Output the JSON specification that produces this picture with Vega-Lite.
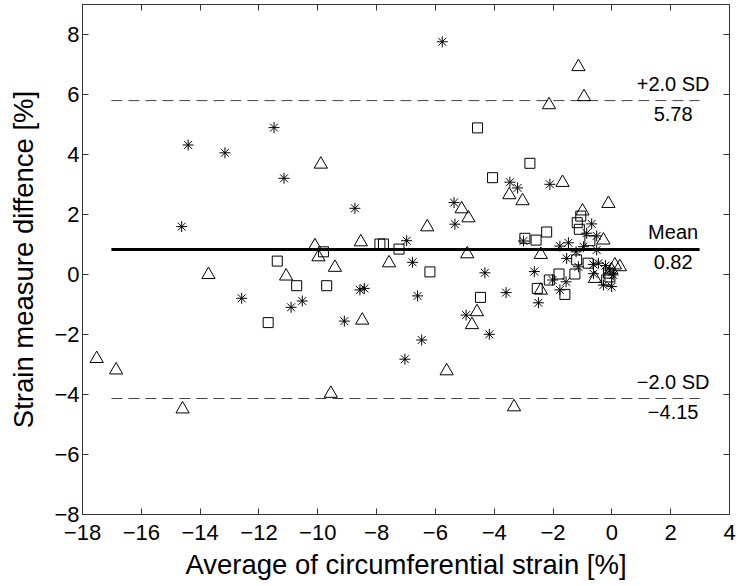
{
  "$schema": "https://vega.github.io/schema/vega-lite/v6.json",
  "width": 647,
  "height": 510,
  "autosize": {"type": "none"},
  "padding": {"left": 82, "top": 4, "right": 9, "bottom": 72},
  "background": "white",
  "config": {
    "font": "Liberation Sans",
    "view": {"stroke": "#333333", "strokeWidth": 1},
    "axis": {
      "grid": false,
      "domainColor": "#333333",
      "tickColor": "#333333",
      "tickSize": -6,
      "labelFontSize": 22,
      "labelColor": "black",
      "labelFlush": false,
      "labelOverlap": false,
      "titleFontSize": 27.5,
      "titleFontWeight": "normal",
      "titleColor": "black",
      "labelFont": "Liberation Sans",
      "titleFont": "Liberation Sans"
    }
  },
  "datasets": {
    "points": [
      {"t": "T", "x": -17.5, "y": -2.76}, {"t": "T", "x": -16.84, "y": -3.14}, {"t": "T", "x": -14.58, "y": -4.44},
      {"t": "T", "x": -13.7, "y": 0.04}, {"t": "T", "x": -11.06, "y": -0.01}, {"t": "T", "x": -10.08, "y": 1.0},
      {"t": "T", "x": -9.96, "y": 0.63}, {"t": "T", "x": -9.88, "y": 3.72}, {"t": "T", "x": -9.4, "y": 0.28},
      {"t": "T", "x": -9.54, "y": -3.92}, {"t": "T", "x": -8.52, "y": 1.13}, {"t": "T", "x": -8.47, "y": -1.48},
      {"t": "T", "x": -7.56, "y": 0.43}, {"t": "T", "x": -6.26, "y": 1.63}, {"t": "T", "x": -5.6, "y": -3.17},
      {"t": "T", "x": -5.09, "y": 2.23}, {"t": "T", "x": -4.86, "y": 1.93}, {"t": "T", "x": -4.9, "y": 0.73},
      {"t": "T", "x": -4.57, "y": -1.2}, {"t": "T", "x": -4.74, "y": -1.63}, {"t": "T", "x": -3.47, "y": 2.7},
      {"t": "T", "x": -3.02, "y": 2.5}, {"t": "T", "x": -3.31, "y": -4.37}, {"t": "T", "x": -2.4, "y": 0.71},
      {"t": "T", "x": -2.4, "y": -0.48}, {"t": "T", "x": -2.12, "y": 5.7}, {"t": "T", "x": -1.66, "y": 3.11},
      {"t": "T", "x": -1.12, "y": 6.97}, {"t": "T", "x": -0.93, "y": 5.97}, {"t": "T", "x": -0.98, "y": 2.16},
      {"t": "T", "x": -0.1, "y": 2.41}, {"t": "T", "x": -0.27, "y": 1.19}, {"t": "T", "x": -0.56, "y": -0.09},
      {"t": "T", "x": 0.12, "y": 0.36}, {"t": "T", "x": 0.29, "y": 0.3}, {"t": "T", "x": 0.0, "y": 0.2},
      {"t": "S", "x": -11.67, "y": -1.62}, {"t": "S", "x": -11.36, "y": 0.43}, {"t": "S", "x": -10.7, "y": -0.39},
      {"t": "S", "x": -9.79, "y": 0.74}, {"t": "S", "x": -9.68, "y": -0.39}, {"t": "S", "x": -7.87, "y": 1.0},
      {"t": "S", "x": -7.75, "y": 1.0}, {"t": "S", "x": -7.22, "y": 0.83}, {"t": "S", "x": -6.17, "y": 0.07},
      {"t": "S", "x": -4.55, "y": 4.87}, {"t": "S", "x": -4.04, "y": 3.21}, {"t": "S", "x": -4.45, "y": -0.78},
      {"t": "S", "x": -2.77, "y": 3.69}, {"t": "S", "x": -2.94, "y": 1.19}, {"t": "S", "x": -2.56, "y": 1.13},
      {"t": "S", "x": -2.2, "y": 1.4}, {"t": "S", "x": -2.52, "y": -0.48}, {"t": "S", "x": -2.11, "y": -0.2},
      {"t": "S", "x": -1.78, "y": 0.0}, {"t": "S", "x": -1.24, "y": 0.0}, {"t": "S", "x": -1.58, "y": -0.68},
      {"t": "S", "x": -1.16, "y": 1.71}, {"t": "S", "x": -1.04, "y": 1.93}, {"t": "S", "x": -1.09, "y": 1.49},
      {"t": "S", "x": -0.73, "y": 1.11}, {"t": "S", "x": -1.18, "y": 0.47}, {"t": "S", "x": -0.79, "y": 0.36},
      {"t": "S", "x": -0.16, "y": -0.2}, {"t": "S", "x": -0.1, "y": 0.03}, {"t": "S", "x": -0.05, "y": -0.1},
      {"t": "A", "x": -14.61, "y": 1.58}, {"t": "A", "x": -14.39, "y": 4.3}, {"t": "A", "x": -13.14, "y": 4.04},
      {"t": "A", "x": -12.57, "y": -0.81}, {"t": "A", "x": -11.47, "y": 4.88}, {"t": "A", "x": -11.13, "y": 3.19},
      {"t": "A", "x": -10.89, "y": -1.11}, {"t": "A", "x": -10.51, "y": -0.9}, {"t": "A", "x": -9.08, "y": -1.57},
      {"t": "A", "x": -8.72, "y": 2.19}, {"t": "A", "x": -8.55, "y": -0.53}, {"t": "A", "x": -8.4, "y": -0.48},
      {"t": "A", "x": -7.02, "y": -2.84}, {"t": "A", "x": -6.96, "y": 1.11}, {"t": "A", "x": -6.76, "y": 0.39},
      {"t": "A", "x": -6.59, "y": -0.73}, {"t": "A", "x": -6.45, "y": -2.2}, {"t": "A", "x": -5.75, "y": 7.74},
      {"t": "A", "x": -5.35, "y": 2.38}, {"t": "A", "x": -5.32, "y": 1.66}, {"t": "A", "x": -4.94, "y": -1.37},
      {"t": "A", "x": -4.3, "y": 0.04}, {"t": "A", "x": -4.15, "y": -2.01}, {"t": "A", "x": -3.58, "y": -0.62},
      {"t": "A", "x": -3.45, "y": 3.06}, {"t": "A", "x": -3.19, "y": 2.87}, {"t": "A", "x": -2.99, "y": 1.1},
      {"t": "A", "x": -2.62, "y": 0.08}, {"t": "A", "x": -2.48, "y": -0.96}, {"t": "A", "x": -2.09, "y": 2.99},
      {"t": "A", "x": -1.75, "y": 0.93}, {"t": "A", "x": -1.46, "y": 1.04}, {"t": "A", "x": -1.52, "y": 0.52},
      {"t": "A", "x": -1.75, "y": -0.53}, {"t": "A", "x": -1.54, "y": -0.26}, {"t": "A", "x": -1.2, "y": 0.74},
      {"t": "A", "x": -1.12, "y": 0.24}, {"t": "A", "x": -0.95, "y": 0.91}, {"t": "A", "x": -0.84, "y": 1.36},
      {"t": "A", "x": -0.67, "y": 1.67}, {"t": "A", "x": -0.5, "y": 1.27}, {"t": "A", "x": -0.5, "y": 0.8},
      {"t": "A", "x": -0.61, "y": 0.32}, {"t": "A", "x": -0.44, "y": 0.36}, {"t": "A", "x": -0.61, "y": 0.01},
      {"t": "A", "x": -0.27, "y": -0.37}, {"t": "A", "x": 0.01, "y": -0.42}, {"t": "A", "x": -0.05, "y": 0.13},
      {"t": "A", "x": 0.06, "y": -0.03}, {"t": "A", "x": -0.2, "y": 0.28}, {"t": "A", "x": -2.0, "y": -0.2}
    ],
    "mean": [{"x1": -17, "x2": 3, "y": 0.82}],
    "limits": [{"x1": -17, "x2": 3, "y": 5.78}, {"x1": -17, "x2": 3, "y": -4.15}],
    "above": [{"x": 2.1, "y": 5.78, "label": "+2.0 SD"}, {"x": 2.1, "y": 0.82, "label": "Mean"}, {"x": 2.1, "y": -4.15, "label": "−2.0 SD"}],
    "below": [{"x": 2.1, "y": 5.78, "label": "5.78"}, {"x": 2.1, "y": 0.82, "label": "0.82"}, {"x": 2.1, "y": -4.15, "label": "−4.15"}]
  },
  "layer": [
    {
      "data": {"name": "limits"},
      "mark": {"type": "rule", "color": "#444444", "strokeWidth": 1, "strokeDash": [11, 6]},
      "encoding": {
        "x": {"field": "x1", "type": "quantitative", "scale": {"domain": [-18, 4], "nice": false, "zero": false},
              "axis": {"orient": "bottom", "values": [-18, -16, -14, -12, -10, -8, -6, -4, -2, 0, 2, 4], "title": "Average of circumferential strain [%]", "labelPadding": 14, "titlePadding": 8}},
        "x2": {"field": "x2"},
        "y": {"field": "y", "type": "quantitative", "scale": {"domain": [-8, 9], "nice": false, "zero": false},
              "axis": {"orient": "left", "values": [-8, -6, -4, -2, 0, 2, 4, 6, 8], "title": "Strain measure diffence [%]", "labelPadding": 9, "titlePadding": 15}}
      }
    },
    {
      "data": {"name": "mean"},
      "mark": {"type": "rule", "color": "black", "strokeWidth": 3},
      "encoding": {
        "x": {"field": "x1", "type": "quantitative",
              "axis": {"orient": "top", "values": [-18, -16, -14, -12, -10, -8, -6, -4, -2, 0, 2, 4], "labels": false, "title": null, "domain": false}},
        "x2": {"field": "x2"},
        "y": {"field": "y", "type": "quantitative",
              "axis": {"orient": "right", "values": [-8, -6, -4, -2, 0, 2, 4, 6, 8], "labels": false, "title": null, "domain": false}}
      }
    },
    {
      "data": {"name": "points"},
      "transform": [{"filter": "datum.t === 'T'"}],
      "mark": {"type": "point", "shape": "triangle-up", "size": 175, "filled": false, "stroke": "black", "strokeWidth": 1, "opacity": 1},
      "encoding": {
        "x": {"field": "x", "type": "quantitative", "axis": null},
        "y": {"field": "y", "type": "quantitative", "axis": null}
      }
    },
    {
      "data": {"name": "points"},
      "transform": [{"filter": "datum.t === 'S'"}],
      "mark": {"type": "point", "shape": "square", "size": 100, "filled": false, "stroke": "black", "strokeWidth": 1, "opacity": 1},
      "encoding": {
        "x": {"field": "x", "type": "quantitative", "axis": null},
        "y": {"field": "y", "type": "quantitative", "axis": null}
      }
    },
    {
      "data": {"name": "points"},
      "transform": [{"filter": "datum.t === 'A'"}],
      "mark": {"type": "point", "shape": "M-1,0L1,0M0,-1L0,1M-0.72,-0.72L0.72,0.72M-0.72,0.72L0.72,-0.72", "size": 120, "filled": false, "stroke": "black", "strokeWidth": 1, "opacity": 1},
      "encoding": {
        "x": {"field": "x", "type": "quantitative", "axis": null},
        "y": {"field": "y", "type": "quantitative", "axis": null}
      }
    },
    {
      "data": {"name": "above"},
      "mark": {"type": "text", "fontSize": 20, "color": "black", "align": "center", "baseline": "middle", "dy": -16},
      "encoding": {
        "x": {"field": "x", "type": "quantitative", "axis": null},
        "y": {"field": "y", "type": "quantitative", "axis": null},
        "text": {"field": "label"}
      }
    },
    {
      "data": {"name": "below"},
      "mark": {"type": "text", "fontSize": 20, "color": "black", "align": "center", "baseline": "middle", "dy": 14},
      "encoding": {
        "x": {"field": "x", "type": "quantitative", "axis": null},
        "y": {"field": "y", "type": "quantitative", "axis": null},
        "text": {"field": "label"}
      }
    }
  ],
  "resolve": {"axis": {"x": "independent", "y": "independent"}}
}
